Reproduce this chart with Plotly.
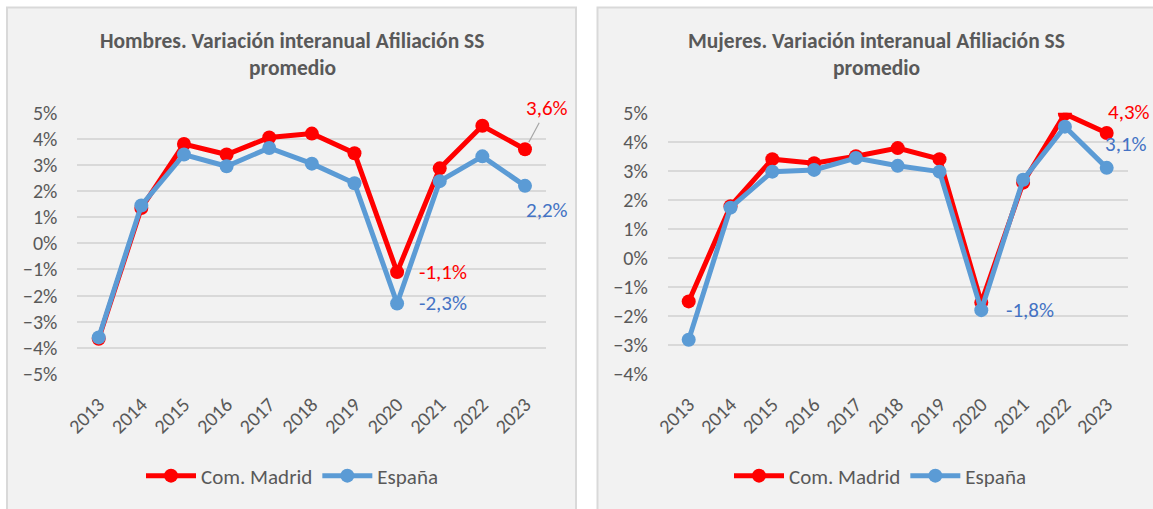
import plotly.graph_objects as go

years = [str(y) for y in range(2013, 2024)]

# Hombres: variación interanual (%) de la afiliación media
hombres_madrid = [-3.65, 1.35, 3.8, 3.4, 4.05, 4.2, 3.45, -1.1, 2.87, 4.5, 3.6]
hombres_espana = [-3.6, 1.45, 3.4, 2.95, 3.65, 3.05, 2.3, -2.3, 2.38, 3.33, 2.2]

# Mujeres: variación interanual (%) de la afiliación media
mujeres_madrid = [-1.5, 1.78, 3.4, 3.26, 3.5, 3.78, 3.4, -1.54, 2.59, 4.96, 4.3]
mujeres_espana = [-2.82, 1.73, 2.97, 3.03, 3.44, 3.17, 2.97, -1.8, 2.69, 4.52, 3.1]

series_names = ["Com. Madrid", "España"]
title_left = ["Hombres. Variación interanual Afiliación SS", "promedio"]
title_right = ["Mujeres. Variación interanual Afiliación SS", "promedio"]

RED = "#ff0000"
BLUE = "#5b9bd5"
BLUE_TXT = "#4472c4"
GREY_TXT = "#595959"
GRID = "#d9d9d9"
FONT = "Calibri, Carlito, Lato, sans-serif"

W, H = 1153, 509


def px_x(p):
    return p / W


def px_y(p):
    return 1 - p / H


def pct(v):
    return f"{v:.1f}".replace(".", ",") + "%"


fig = go.Figure()

panels = [
    (hombres_madrid, hombres_espana, "x", "y", "legend"),
    (mujeres_madrid, mujeres_espana, "x2", "y2", "legend2"),
]
for madrid, espana, xa, ya, lg in panels:
    for vals, name, col in [(madrid, series_names[0], RED), (espana, series_names[1], BLUE)]:
        fig.add_trace(go.Scatter(
            x=years, y=vals, name=name, mode="lines+markers",
            line=dict(color=col, width=5),
            marker=dict(color=col, size=14),
            xaxis=xa, yaxis=ya, legend=lg, hoverinfo="skip",
        ))

tick_font = dict(family=FONT, size=20, color=GREY_TXT)

common_x = dict(
    type="category", range=[-0.5, 10.5], tickangle=-45, tickfont=tick_font,
    showgrid=False, zeroline=False, showline=False, automargin=False,
    ticks="outside", ticklen=10, tickcolor="rgba(0,0,0,0)",
)
common_y = dict(
    dtick=1, ticksuffix="%", tickfont=tick_font, automargin=False,
    showgrid=True, gridcolor=GRID, gridwidth=2, zeroline=False, showline=False,
    ticks="outside", ticklen=15, tickcolor="rgba(0,0,0,0)",
)

y_dom = [px_y(374), px_y(112.7)]
legend_font = dict(family=FONT, size=21, color=GREY_TXT)

fig.update_layout(
    width=W, height=H,
    margin=dict(l=0, r=0, t=0, b=0),
    paper_bgcolor="white", plot_bgcolor="rgba(0,0,0,0)",
    font=dict(family=FONT, color=GREY_TXT),
    xaxis=dict(**common_x, domain=[px_x(77.4), px_x(546.3)], anchor="y"),
    yaxis=dict(**common_y, range=[-5, 5], domain=y_dom, anchor="x"),
    xaxis2=dict(**common_x, domain=[px_x(667.8), px_x(1127.6)], anchor="y2"),
    yaxis2=dict(**common_y, range=[-4, 5], domain=y_dom, anchor="x2"),
    legend=dict(orientation="h", x=px_x(292), xanchor="center", y=px_y(476), yanchor="middle",
                font=legend_font, bgcolor="rgba(0,0,0,0)", itemwidth=50),
    legend2=dict(orientation="h", x=px_x(880), xanchor="center", y=px_y(476), yanchor="middle",
                 font=legend_font, bgcolor="rgba(0,0,0,0)", itemwidth=50),
    showlegend=True,
)

# Chart-area panels
fig.add_shape(type="rect", xref="paper", yref="paper", layer="below",
              x0=px_x(7), x1=px_x(576), y0=-0.02, y1=px_y(7.5),
              fillcolor="#f2f2f2", line=dict(color=GRID, width=2))
fig.add_shape(type="rect", xref="paper", yref="paper", layer="below",
              x0=px_x(597.5), x1=1.02, y0=-0.02, y1=px_y(7.5),
              fillcolor="#f2f2f2", line=dict(color=GRID, width=2))

# Panel titles
title_font = dict(family=FONT, size=21.5, color=GREY_TXT)
for cx, lines in [(292, title_left), (876, title_right)]:
    for py, line in zip([41, 68], lines):
        fig.add_annotation(xref="paper", yref="paper", x=px_x(cx), y=px_y(py),
                           text=f"<b>{line}</b>", showarrow=False, font=title_font,
                           xanchor="center", yanchor="middle")

lab_font_red = dict(family=FONT, size=21, color=RED)
lab_font_blue = dict(family=FONT, size=21, color=BLUE_TXT)
i20 = years.index("2020")
i23 = years.index("2023")

# Hombres labels (category index positions)
fig.add_annotation(xref="x", yref="y", x=i23, y=hombres_madrid[i23], text=pct(hombres_madrid[i23]),
                   showarrow=True, ax=22, ay=-41, arrowhead=0, arrowwidth=1.2, arrowcolor="#a6a6a6",
                   standoff=8, font=lab_font_red)
fig.add_annotation(xref="x", yref="y", x=i23, y=hombres_espana[i23], text=pct(hombres_espana[i23]),
                   showarrow=False, xshift=22, yshift=-24, font=lab_font_blue)
fig.add_annotation(xref="x", yref="y", x=i20, y=hombres_madrid[i20], text=pct(hombres_madrid[i20]),
                   showarrow=False, xanchor="left", xshift=20, font=lab_font_red)
fig.add_annotation(xref="x", yref="y", x=i20, y=hombres_espana[i20], text=pct(hombres_espana[i20]),
                   showarrow=False, xanchor="left", xshift=20, font=lab_font_blue)

# Mujeres labels
fig.add_annotation(xref="x2", yref="y2", x=i23, y=mujeres_madrid[i23], text=pct(mujeres_madrid[i23]),
                   showarrow=False, xshift=22, yshift=21, font=lab_font_red)
fig.add_annotation(xref="x2", yref="y2", x=i23, y=mujeres_espana[i23], text=pct(mujeres_espana[i23]),
                   showarrow=False, xshift=19, yshift=24, font=lab_font_blue)
fig.add_annotation(xref="x2", yref="y2", x=i20, y=mujeres_espana[i20], text=pct(mujeres_espana[i20]),
                   showarrow=False, xanchor="left", xshift=23, font=lab_font_blue)

fig.write_html("out.html")
